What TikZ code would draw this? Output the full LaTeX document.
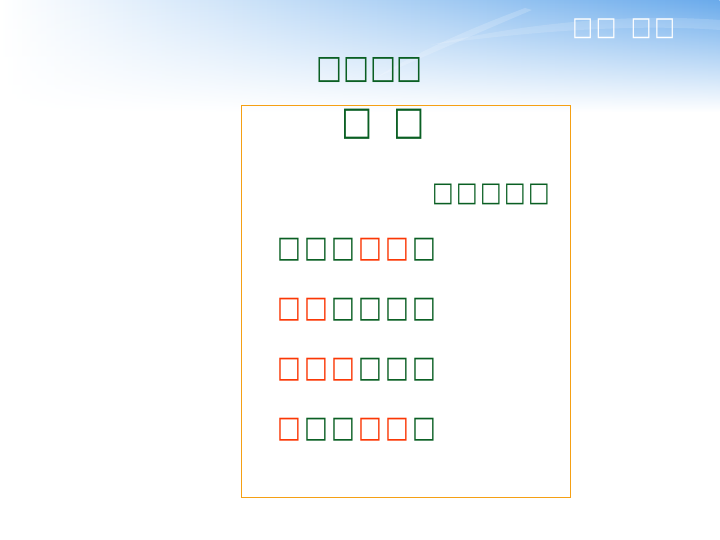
\documentclass[tikz,border=0pt]{standalone}
\usepackage{fontspec}
\usepackage{graphicx}
\usepackage{tikz}
\usetikzlibrary{positioning}
\usetikzlibrary{fadings}
\newfontfamily\boxfont{DejaVu Sans}
\definecolor{poemgreen}{RGB}{10,95,35}
\definecolor{poemred}{RGB}{250,55,5}
\definecolor{framegold}{RGB}{245,160,20}
\definecolor{skyblue}{RGB}{105,170,235}
\definecolor{skylight}{RGB}{190,222,248}
\tikzfading[name=skyfade, top color=transparent!0, bottom color=transparent!100]
\newlength\tfpitch
\newcommand{\tf}{\makebox[\tfpitch][c]{\scalebox{0.84}[1]{□}}}
\newcommand{\rd}[1]{\textcolor{poemred}{#1}}
\tikzset{
    tofu/.style 2 args={inner sep=0, outer sep=0, anchor=west, text=poemgreen,
        font=\boxfont\fontsize{#1}{#1}\selectfont\setlength\tfpitch{#2}},
    poemline/.style={tofu={30pt}{27pt}}
}

\begin{document}
\begin{tikzpicture}[x=1pt, y=-1pt, node distance=60pt]

\useasboundingbox (0,0) rectangle (720,540);

%% sky band
\shade[left color=white, middle color=skylight, right color=skyblue, path fading=skyfade] (0,0) rectangle (720,112);
\fill[white, opacity=0.18] (375,78) .. controls (430,45) and (480,25) .. (525,8) -- (532,10) .. controls (480,32) and (430,54) .. (375,78) -- cycle;
\fill[white, opacity=0.15] (430,45) .. controls (540,20) and (640,14) .. (720,20) -- (720,30) .. controls (640,24) and (540,30) .. (430,45) -- cycle;

\draw
    (571,29) node [tofu={26pt}{23.5pt}, text=white, name=corner] {\tf\tf\hspace{11.5pt}\tf\tf}
    (316.5,70.5) node [tofu={32.7pt}{26.7pt}, name=title] {\tf\tf\tf\tf}
    (344.5,124) node [tofu={39.5pt}{26pt}, name=poem] {\tf\hspace{26pt}\tf}
    (431,194.5) node [tofu={27.2pt}{24pt}, name=poet] {\tf\tf\tf\tf\tf}
;

\draw
    (276,249.5) node [poemline, name=line one] {\tf\tf\tf\rd{\tf\tf}\tf}
    node [below=of line one.west, poemline, name=line two] {\rd{\tf\tf}\tf\tf\tf\tf}
    node [below=of line two.west, poemline, name=line three] {\rd{\tf\tf\tf}\tf\tf\tf}
    node [below=of line three.west, poemline, name=line four] {\rd{\tf}\tf\tf\rd{\tf\tf}\tf}
;

\draw[framegold, line width=1pt] (241,106) rectangle (570,497);

\end{tikzpicture}
\end{document}
